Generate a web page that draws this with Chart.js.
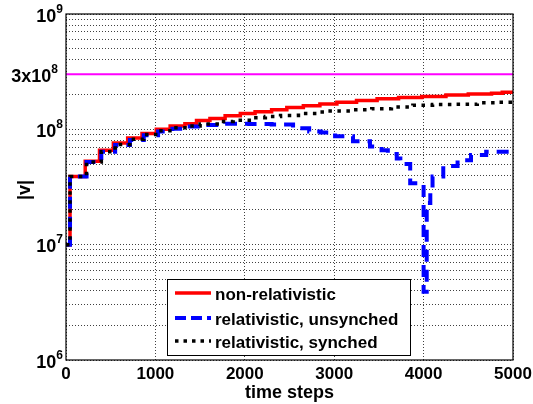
<!DOCTYPE html>
<html>
<head>
<meta charset="utf-8">
<script src="https://cdn.jsdelivr.net/npm/chart.js@4.4.1/dist/chart.umd.min.js"></script>
<style>
  html, body { margin: 0; padding: 0; background: #fff; }
  #wrap { width: 533px; height: 404px; }
</style>
</head>
<body>
<div id="wrap"><canvas id="velChart" width="533" height="404"></canvas></div>
<script>
// time step where a new level starts, and the |v| it jumps to
const redT = [0, 45, 215, 375, 530, 690, 850, 1010, 1165, 1330, 1460, 1610, 1780, 1950, 2115, 2300, 2470, 2655, 2840, 3030, 3250, 3480, 3720, 3980, 4250, 4500, 4760, 4880, 5000];
const redV = [1.0e7, 3.9e7, 5.3e7, 6.6e7, 7.6e7, 8.4e7, 9.2e7, 1.0e8, 1.07e8, 1.12e8, 1.19e8, 1.24e8, 1.31e8, 1.37e8, 1.42e8, 1.48e8, 1.55e8, 1.6e8, 1.66e8, 1.72e8, 1.78e8, 1.84e8, 1.89e8, 1.93e8, 1.98e8, 2.02e8, 2.06e8, 2.1e8, 2.1e8];

const blueT = [0, 45, 230, 395, 550, 715, 870, 1030, 1190, 1350, 1560, 1780, 2050, 2300, 2540, 2720, 2850, 3010, 3210, 3400, 3530, 3600, 3700, 3740, 3850, 4000, 4035, 4075, 4100, 4220, 4380, 4530, 4700, 5000];
const blueV = [1.0e7, 3.9e7, 5.2e7, 6.4e7, 7.3e7, 8.1e7, 8.9e7, 9.6e7, 1.01e8, 1.06e8, 1.09e8, 1.12e8, 1.11e8, 1.1e8, 1.02e8, 9.6e7, 9.4e7, 8.7e7, 7.9e7, 7.1e7, 6.6e7, 6.1e7, 5.6e7, 5.0e7, 3.4e7, 3.9e6, 2.3e7, 2.8e7, 3.9e7, 4.8e7, 5.4e7, 6.0e7, 6.4e7, 6.4e7];

const blackT = [0, 45, 230, 395, 550, 715, 870, 1030, 1190, 1350, 1500, 1720, 1870, 2090, 2230, 2400, 2600, 2820, 2930, 3180, 3420, 3640, 3880, 4100, 4350, 4600, 4820, 5000];
const blackV = [1.0e7, 3.9e7, 5.2e7, 6.4e7, 7.4e7, 8.2e7, 9.0e7, 9.7e7, 1.03e8, 1.07e8, 1.11e8, 1.17e8, 1.2e8, 1.26e8, 1.29e8, 1.32e8, 1.37e8, 1.41e8, 1.44e8, 1.48e8, 1.51e8, 1.56e8, 1.62e8, 1.64e8, 1.65e8, 1.7e8, 1.72e8, 1.72e8];

const seriesNames = ['non-relativistic', 'relativistic, unsynched', 'relativistic, synched'];
const xTicks = [0, 1000, 2000, 3000, 4000, 5000];
const yDecades = [1e6, 1e7, 1e8, 1e9];
const lightSpeed = 3e8;

const FONT = '"Liberation Sans", Arial, sans-serif';

const toPoints = (t, v) => t.map((x, i) => ({ x: x, y: v[i] }));

// minor grid: 1..9 in every decade
const yGrid = [];
for (let d = 0; d < yDecades.length - 1; d++) {
  for (let m = 1; m < 10; m++) yGrid.push(m * yDecades[d]);
}
yGrid.push(yDecades[yDecades.length - 1]);

function drawPow(ctx, base, exp, rightX, y) {
  const big = 'bold 18px ' + FONT;
  const small = 'bold 12px ' + FONT;
  ctx.font = big;
  const wb = ctx.measureText(base).width;
  ctx.font = small;
  const we = ctx.measureText(exp).width;
  const x0 = rightX - wb - we;
  ctx.textAlign = 'left';
  ctx.textBaseline = 'alphabetic';
  ctx.font = big;
  ctx.fillText(base, x0, y + 7.5);
  ctx.font = small;
  ctx.fillText(exp, x0 + wb, y - 1.5);
}

const decor = {
  id: 'decor',
  afterDraw(chart) {
    const ctx = chart.ctx;
    const area = chart.chartArea;
    const ys = chart.scales.y;
    ctx.save();
    ctx.fillStyle = '#000';

    // box round the axes
    ctx.strokeStyle = '#000';
    ctx.lineWidth = 1.2;
    ctx.strokeRect(area.left, area.top, area.right - area.left, area.bottom - area.top);

    // y tick labels with exponents
    yDecades.forEach(v => {
      drawPow(ctx, '10', String(Math.round(Math.log10(v))), 63, ys.getPixelForValue(v));
    });
    drawPow(ctx, '3x10', String(Math.floor(Math.log10(lightSpeed))), 58, ys.getPixelForValue(lightSpeed));

    // axis titles
    ctx.font = 'bold 18px ' + FONT;
    ctx.textAlign = 'center';
    ctx.textBaseline = 'alphabetic';
    ctx.fillText('time steps', (area.left + area.right) / 2, 398);
    ctx.save();
    ctx.translate(25, 190);
    ctx.rotate(-Math.PI / 2);
    ctx.textBaseline = 'middle';
    ctx.fillText('|v|', 0, 0);
    ctx.restore();

    // legend inside the plot
    const lx = 167.5, ly = 279.5, lw = 243, lh = 76;
    ctx.fillStyle = '#fff';
    ctx.fillRect(lx, ly, lw, lh);
    ctx.strokeStyle = '#000';
    ctx.lineWidth = 1;
    ctx.strokeRect(lx, ly, lw, lh);
    const rows = [293, 318, 341];
    seriesNames.forEach((name, i) => {
      const ds = chart.data.datasets[i];
      ctx.save();
      ctx.strokeStyle = ds.borderColor;
      ctx.lineWidth = ds.borderWidth;
      ctx.lineCap = 'butt';
      ctx.setLineDash(ds.legendDash || []);
      ctx.beginPath();
      ctx.moveTo(175, rows[i]);
      ctx.lineTo(211, rows[i]);
      ctx.stroke();
      ctx.restore();
      ctx.fillStyle = '#000';
      ctx.font = 'bold 17px ' + FONT;
      ctx.textAlign = 'left';
      ctx.textBaseline = 'alphabetic';
      ctx.fillText(name, 215, rows[i] + 7);
    });
    ctx.restore();
  }
};

const ctx = document.getElementById('velChart').getContext('2d');
const velChart = new Chart(ctx, {
  type: 'line',
  data: {
    datasets: [{
      label: seriesNames[0],
      data: toPoints(redT, redV),
      borderColor: '#ff0000',
      borderWidth: 3.5,
      stepped: true,
      pointRadius: 0,
      order: 3
    }, {
      label: seriesNames[1],
      data: toPoints(blueT, blueV),
      borderColor: '#0000ff',
      borderWidth: 4,
      borderDash: [12, 8],
      legendDash: [11, 5],
      stepped: true,
      pointRadius: 0,
      order: 2
    }, {
      label: seriesNames[2],
      data: toPoints(blackT, blackV),
      borderColor: '#000000',
      borderWidth: 3.5,
      borderDash: [3.5, 5.5],
      legendDash: [3.5, 5],
      stepped: true,
      pointRadius: 0,
      order: 1
    }, {
      label: 'c',
      data: [{ x: xTicks[0], y: lightSpeed }, { x: xTicks[xTicks.length - 1], y: lightSpeed }],
      borderColor: '#ff00ff',
      borderWidth: 2,
      pointRadius: 0,
      order: 4
    }]
  },
  options: {
    responsive: false,
    animation: false,
    layout: { padding: { top: 14, right: 20, left: 0, bottom: 0 } },
    plugins: {
      legend: { display: false },
      tooltip: { enabled: false }
    },
    scales: {
      x: {
        type: 'linear',
        min: xTicks[0],
        max: xTicks[xTicks.length - 1],
        afterBuildTicks: scale => { scale.ticks = xTicks.map(v => ({ value: v })); },
        afterFit: scale => {
          scale.height = 44;
          scale.paddingLeft = 0;
          scale.paddingRight = 0;
        },
        grid: { color: 'rgba(0,0,0,0.75)', lineWidth: 1, drawTicks: false },
        border: { display: false, dash: [1, 2] },
        ticks: {
          color: '#000',
          padding: 4,
          maxRotation: 0,
          callback: value => String(value),
          font: { family: FONT, size: 17, weight: 'bold' }
        }
      },
      y: {
        type: 'logarithmic',
        min: yDecades[0],
        max: yDecades[yDecades.length - 1],
        afterBuildTicks: scale => { scale.ticks = yGrid.map(v => ({ value: v })); },
        afterFit: scale => { scale.width = 66; },
        grid: { color: 'rgba(0,0,0,0.75)', lineWidth: 1, drawTicks: false },
        border: { display: false, dash: [1, 2] },
        ticks: { display: false }
      }
    }
  },
  plugins: [decor]
});
</script>
</body>
</html>
